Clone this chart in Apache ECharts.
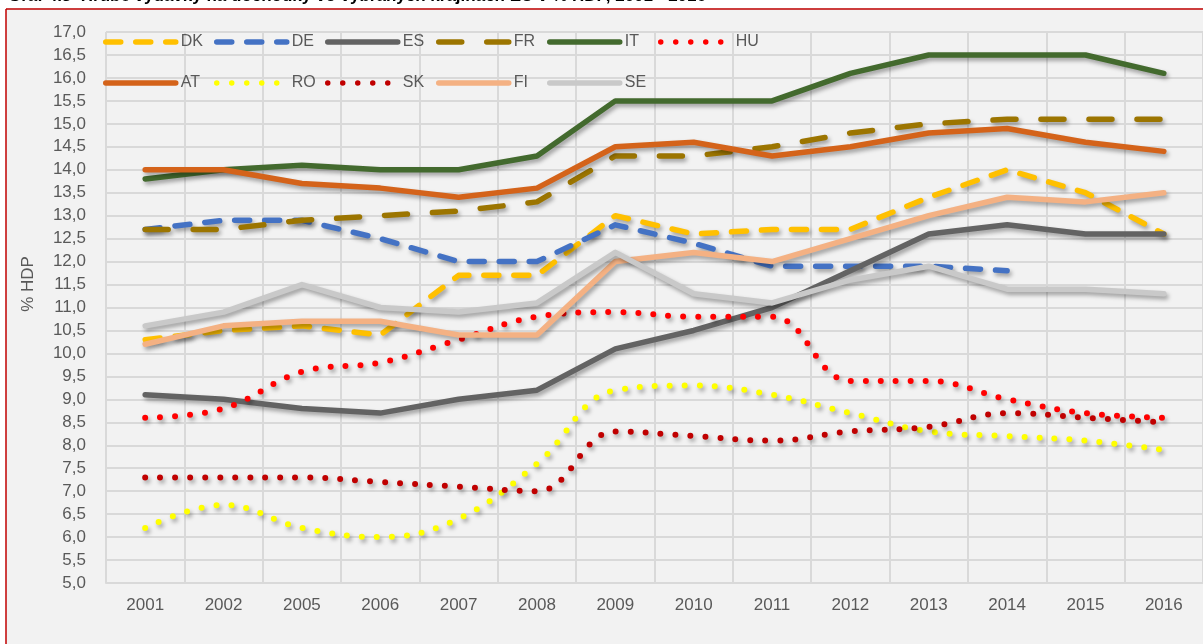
<!DOCTYPE html>
<html>
<head>
<meta charset="utf-8">
<script src="https://cdn.jsdelivr.net/npm/echarts@6/dist/echarts.min.js"></script>
<style>
  html, body { margin: 0; padding: 0; background: #fff; }
  #chart { width: 1203px; height: 644px; }
</style>
</head>
<body>
<div id="chart"></div>
<script>
// roky a hodnoty (% HDP)
const years = ['2001', '2002', '2005', '2006', '2007', '2008', '2009', '2010', '2011', '2012', '2013', '2014', '2015', '2016'];
const dk = [10.3, 10.5, 10.6, 10.4, 11.7, 11.7, 13.0, 12.6, 12.7, 12.7, 13.4, 14.0, 13.5, 12.6];
const de = [12.7, 12.9, 12.9, 12.5, 12.0, 12.0, 12.8, 12.4, 11.9, 11.9, 11.9, 11.8, null, null];
const es = [9.1, 9.0, 8.8, 8.7, 9.0, 9.2, 10.1, 10.5, 11.0, 11.8, 12.6, 12.8, 12.6, 12.6];
const fr = [12.7, 12.7, 12.9, 13.0, 13.1, 13.3, 14.3, 14.3, 14.5, 14.8, 15.0, 15.1, 15.1, 15.1];
const it = [13.8, 14.0, 14.1, 14.0, 14.0, 14.3, 15.5, 15.5, 15.5, 16.1, 16.5, 16.5, 16.5, 16.1];
const hu = [8.6, 8.8, 9.6, 9.8, 10.3, 10.8, 10.9, 10.8, 10.8, 9.4, 9.4, 9.0, 8.7, 8.6];
const at = [14.0, 14.0, 13.7, 13.6, 13.4, 13.6, 14.5, 14.6, 14.3, 14.5, 14.8, 14.9, 14.6, 14.4];
const ro = [6.2, 6.7, 6.2, 6.0, 6.4, 7.6, 9.2, 9.3, 9.1, 8.7, 8.3, 8.2, 8.1, 7.9];
const sk = [7.3, 7.3, 7.3, 7.2, 7.1, 7.0, 8.3, 8.2, 8.1, 8.3, 8.4, 8.7, 8.6, 8.5];
const fi = [10.2, 10.6, 10.7, 10.7, 10.4, 10.4, 12.0, 12.2, 12.0, 12.5, 13.0, 13.4, 13.3, 13.5];
const se = [10.6, 10.9, 11.5, 11.0, 10.9, 11.1, 12.2, 11.3, 11.1, 11.6, 11.9, 11.4, 11.4, 11.3];

// legenda: dva riadky, stĺpce idú po sebe
const legendRow1 = ['DK', 'DE', 'ES', 'FR', 'IT', 'HU'];
const legendRow2 = ['AT', 'RO', 'SK', 'FI', 'SE'];

const FONT = '"Liberation Sans", Arial, sans-serif';
const TEXT = '#595959';
const GRID = '#d9d9d9';

const defs = [
  { name: 'DK', data: dk, color: '#FFC000', kind: 'dash' },
  { name: 'DE', data: de, color: '#4472C4', kind: 'dash' },
  { name: 'ES', data: es, color: '#636363', kind: 'solid' },
  { name: 'FR', data: fr, color: '#9C7500', kind: 'longdash' },
  { name: 'IT', data: it, color: '#436A2E', kind: 'solid' },
  { name: 'HU', data: hu, color: '#FF0000', kind: 'dot' },
  { name: 'AT', data: at, color: '#D4631A', kind: 'solid' },
  { name: 'RO', data: ro, color: '#FFFF00', kind: 'dot' },
  { name: 'SK', data: sk, color: '#C00000', kind: 'dot' },
  { name: 'FI', data: fi, color: '#F4B183', kind: 'solid' },
  { name: 'SE', data: se, color: '#C9C9C9', kind: 'solid' }
];

function lineStyleFor(kind, color) {
  const s = {
    color: color, width: 5.5, cap: 'round', join: 'round',
    shadowColor: 'rgba(0,0,0,0.35)', shadowBlur: 4, shadowOffsetX: 2, shadowOffsetY: 3
  };
  if (kind === 'dash') s.type = [15, 15];
  if (kind === 'longdash') s.type = [23, 25];
  if (kind === 'dot') { s.type = [0, 15]; s.width = 6; }
  return s;
}

const series = defs.map((d) => ({
  name: d.name,
  type: 'line',
  data: d.data,
  symbol: 'none',
  smooth: d.kind === 'dot' ? 0.4 : false,
  color: d.color,
  lineStyle: lineStyleFor(d.kind, d.color),
  connectNulls: false
}));

// one vertical legend per column so that columns sit on a fixed step
const legends = legendRow1.map((name, i) => ({
  orient: 'vertical',
  left: 98 + Math.round(i * 111),
  top: 29,
  padding: 5,
  itemWidth: 70,
  itemHeight: 14,
  itemGap: 25,
  data: legendRow2[i] ? [name, legendRow2[i]] : [name],
  textStyle: { color: TEXT, fontSize: 16, fontFamily: FONT },
  itemStyle: { color: 'transparent', borderColor: 'transparent', borderWidth: 0, opacity: 0 },
  lineStyle: {
    width: 5.5, cap: 'round', join: 'round',
    shadowBlur: 0, shadowOffsetX: 0, shadowOffsetY: 0, shadowColor: 'transparent'
  }
}));

const chart = echarts.init(document.getElementById('chart'));
chart.setOption({
  backgroundColor: '#f2f2f2',
  animation: false,
  graphic: [
    { type: 'rect', shape: { x: 0, y: 0, width: 1203, height: 8 }, style: { fill: '#fff' } },
    { type: 'rect', shape: { x: 0, y: 0, width: 6, height: 644 }, style: { fill: '#fff' } },
    { type: 'line', shape: { x1: 6, y1: 9, x2: 1203, y2: 9 }, style: { stroke: '#C00000', lineWidth: 1.5 } },
    { type: 'line', shape: { x1: 6, y1: 9, x2: 6, y2: 644 }, style: { stroke: '#C00000', lineWidth: 1.5 } },
    {
      type: 'text', x: 8, y: -4,
      style: {
        text: 'Graf 4.3  Hrubé výdavky na dôchodky vo vybraných krajinách EÚ v % HDP, 2001 - 2016',
        fontSize: 17, fontWeight: 'bold', fontFamily: FONT, fill: '#000', verticalAlign: 'middle'
      }
    },
    {
      type: 'text', x: 28, y: 284, rotation: Math.PI / 2,
      style: { text: '% HDP', fontSize: 17, fontFamily: FONT, fill: TEXT, align: 'center', verticalAlign: 'middle' }
    }
  ],
  legend: legends,
  grid: { left: 106, right: -1, top: 32, bottom: 61 },
  xAxis: {
    type: 'category',
    data: years,
    boundaryGap: true,
    axisTick: { show: false },
    axisLine: { lineStyle: { color: GRID, width: 2 } },
    axisLabel: { interval: 0, color: TEXT, fontSize: 17, fontFamily: FONT, margin: 14 },
    splitLine: { show: true, interval: 0, lineStyle: { color: GRID, width: 2 } }
  },
  yAxis: {
    type: 'value',
    min: 5,
    max: 17,
    interval: 0.5,
    axisLine: { show: false },
    axisTick: { show: false },
    axisLabel: {
      color: TEXT, fontSize: 17, fontFamily: FONT, margin: 20,
      formatter: (v) => v.toFixed(1).replace('.', ',')
    },
    splitLine: { lineStyle: { color: GRID, width: 2 } }
  },
  series: series
});
</script>
</body>
</html>
